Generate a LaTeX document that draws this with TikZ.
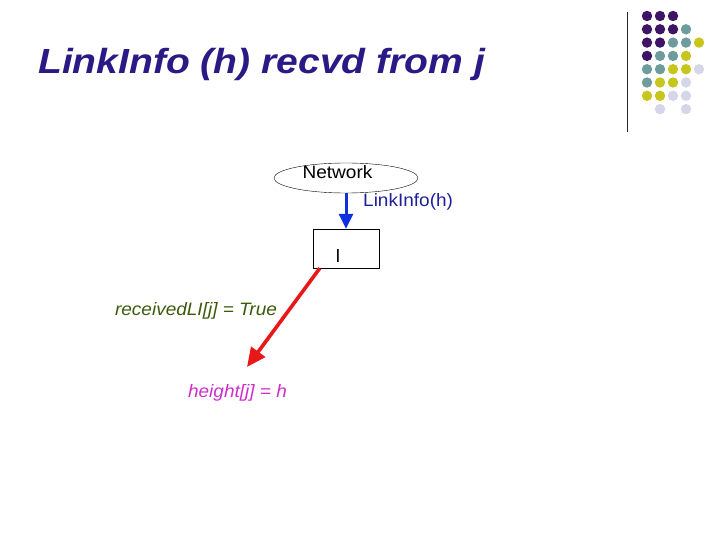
\documentclass[tikz,border=0pt]{standalone}
\usepackage{fontspec}
\setmainfont{Liberation Sans}
\newfontfamily\ttlfont[FakeStretch=1.12]{Liberation Sans}
\newfontfamily\bodyfont[FakeStretch=1.06]{Liberation Sans}
\usepackage{xcolor}
\usepackage{tikz}
\usetikzlibrary{arrows.meta, positioning, shapes}
\definecolor{ttlblue}{HTML}{2B1A85}
\definecolor{msgblue}{HTML}{1F1F9C}
\definecolor{arrblue}{HTML}{1030E0}
\definecolor{arrred}{HTML}{E81818}
\definecolor{vargreen}{HTML}{3C5A0C}
\definecolor{varpink}{HTML}{CC2ECC}
\definecolor{dotpurple}{HTML}{3E1466}
\definecolor{dotteal}{HTML}{6E9C9C}
\definecolor{dotyellow}{HTML}{C6C61E}
\definecolor{dotlav}{HTML}{D6D6EA}
\tikzset{
  ttlnode/.style={anchor=base west,inner sep=0pt,text=ttlblue,font=\ttlfont\fontsize{35}{40}\selectfont\bfseries\itshape},
  txtnode/.style={inner sep=0pt,font=\bodyfont\fontsize{18}{20}\selectfont},
  vartxt/.style={txtnode,font=\bodyfont\fontsize{18}{20}\selectfont\itshape},
  netnode/.style={ellipse,draw=black,thin,minimum width=144bp,minimum height=30bp,inner sep=0pt},
  procnode/.style={rectangle,draw=black,thin,minimum width=66bp,minimum height=39bp,inner sep=0pt},
  msgedge/.style={-{Triangle[length=15bp,width=14bp]},line width=3bp,arrblue},
  updedge/.style={-{Triangle[length=19bp,width=17bp]},line width=3.6bp,arrred},
}

\begin{document}
\begin{tikzpicture}[x=1bp,y=-1bp]
  \useasboundingbox (0,0) rectangle (720,540);
  % corner decoration
  \draw[black!85,line width=1bp] (627,12) -- (627,132);
  \foreach \dx/\dy/\dc in {0/0/dotpurple,1/0/dotpurple,2/0/dotpurple,
      0/1/dotpurple,1/1/dotpurple,2/1/dotpurple,3/1/dotteal,
      0/2/dotpurple,1/2/dotpurple,2/2/dotteal,3/2/dotteal,4/2/dotyellow,
      0/3/dotpurple,1/3/dotteal,2/3/dotteal,3/3/dotyellow,
      0/4/dotteal,1/4/dotteal,2/4/dotyellow,3/4/dotyellow,4/4/dotlav,
      0/5/dotteal,1/5/dotyellow,2/5/dotyellow,3/5/dotlav,
      0/6/dotyellow,1/6/dotyellow,2/6/dotlav,3/6/dotlav,
      1/7/dotlav,3/7/dotlav}
    \fill[\dc] (647+13*\dx,16+13.3*\dy) circle (5.2);
  % title
  \node[ttlnode] (ttl) at (38,74) {LinkInfo (h) recvd from j};
  % network and node l
  \node[netnode] (net) at (346,178) {};
  \node[txtnode] (netlbl) at (337.5,172.5) {Network};
  \node[procnode] (lnode) at (346,248.5) {};
  \node[txtnode] (llbl) at (338,256.5) {l};
  \node[txtnode,text=msgblue,anchor=west] (msg) at (363,202) {LinkInfo(h)};
  \draw[msgedge] (net.south) -- (lnode.north);
  % variable updates
  \node[vartxt,text=vargreen] (recv) at (196,310.5) {receivedLI[j] = True};
  \node[vartxt,text=varpink] (hgt) at (237.5,392.5) {height[j] = h};
  \coordinate (tip) at (247,367);
  \draw[updedge] ([xshift=7bp]lnode.south west) -- (tip);
\end{tikzpicture}
\end{document}
